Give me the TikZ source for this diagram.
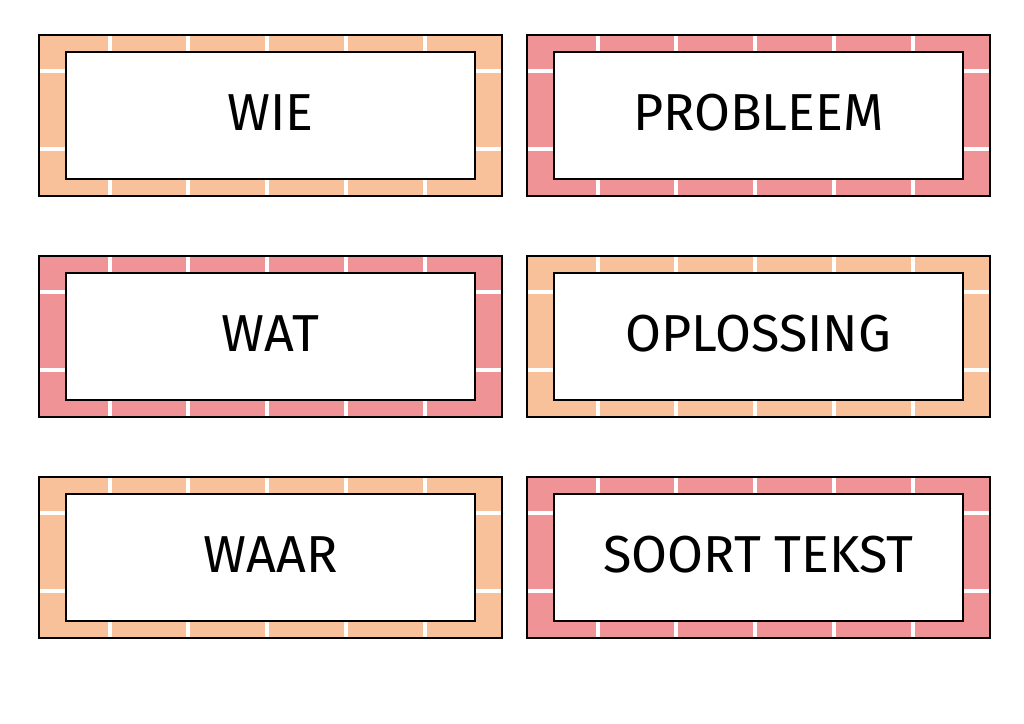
\documentclass[tikz,border=0pt]{standalone}
\usepackage{fontspec}
\setmainfont{Fira Sans}
\definecolor{org}{HTML}{F9C19A}
\definecolor{pnk}{HTML}{F09397}
\tikzset{tick/.style={white,line width=2.4pt},frame/.style={draw=black,line width=1.3pt},
lab/.style={font=\fontsize{39}{44}\selectfont}}
\newcommand{\card}[4]{%
\begin{scope}[shift={(#1,#2)}]
\fill[#3] (0,0) rectangle (463,161);
\foreach \t in {71,149,228,307,386}{\draw[tick] (\t,0) -- (\t,17); \draw[tick] (\t,144) -- (\t,161);}
\foreach \t in {36,114}{\draw[tick] (0,\t) -- (27,\t); \draw[tick] (436,\t) -- (463,\t);}
\draw[frame] (0,0) rectangle (463,161);
\draw[frame,fill=white] (27,17) rectangle (436,144);
\node[lab] (n#4) at (231.5,78) {#4};
\end{scope}}
\begin{document}
\begin{tikzpicture}[x=0.75pt,y=-0.75pt]
\useasboundingbox (0,0) rectangle (1024,724);
\card{39}{35}{org}{WIE}
\card{527}{35}{pnk}{PROBLEEM}
\card{39}{256}{pnk}{WAT}
\card{527}{256}{org}{OPLOSSING}
\card{39}{477}{org}{WAAR}
\card{527}{477}{pnk}{SOORT TEKST}
\end{tikzpicture}
\end{document}
